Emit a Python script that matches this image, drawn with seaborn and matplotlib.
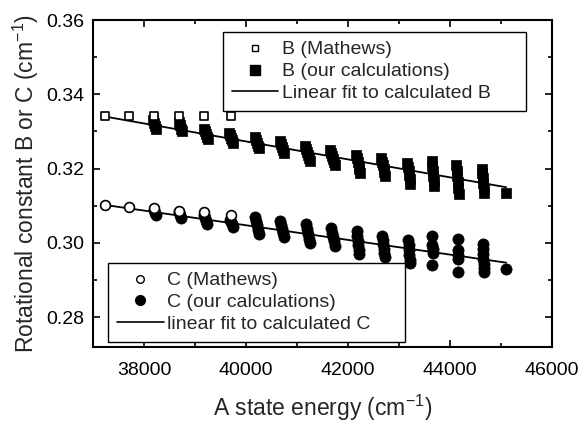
import numpy as np
import pandas as pd
import matplotlib
matplotlib.use("Agg")
import matplotlib.pyplot as plt
from matplotlib.ticker import MultipleLocator
from matplotlib.lines import Line2D
import seaborn as sns

# Mathews values
mathews_x = [37230, 37710, 38200, 38690, 39180, 39710]
mathews_b = [0.3341, 0.3341, 0.3341, 0.3341, 0.3341, 0.3341]
mathews_c = [0.3103, 0.3098, 0.3093, 0.3085, 0.3084, 0.3076]

# our calculations, B
calc_b_x = [38180, 38200, 38220, 38240,
            38680, 38700, 38720, 38740,
            39170, 39190, 39210, 39230, 39250,
            39670, 39690, 39710, 39730, 39750,
            40170, 40190, 40210, 40230, 40250,
            40670, 40690, 40710, 40730, 40750,
            41160, 41180, 41200, 41220, 41240, 41250,
            41650, 41670, 41690, 41710, 41730, 41740,
            42160, 42180, 42200, 42210, 42220, 42230,
            42650, 42670, 42690, 42700, 42710, 42720,
            43150, 43170, 43190, 43200, 43210, 43220,
            43640, 43650, 43660, 43670, 43680, 43690,
            44120, 44130, 44140, 44150, 44160, 44170,
            44620, 44630, 44640, 44650, 44660, 44670,
            45100]
calc_b = [0.3330, 0.3322, 0.3315, 0.3308,
          0.3326, 0.3318, 0.3308, 0.3300,
          0.3307, 0.3300, 0.3292, 0.3284, 0.3280,
          0.3297, 0.3290, 0.3283, 0.3276, 0.3270,
          0.3286, 0.3278, 0.3270, 0.3262, 0.3255,
          0.3275, 0.3267, 0.3259, 0.3251, 0.3243,
          0.3262, 0.3253, 0.3245, 0.3237, 0.3229, 0.3221,
          0.3251, 0.3243, 0.3235, 0.3227, 0.3219, 0.3211,
          0.3238, 0.3228, 0.3218, 0.3208, 0.3198, 0.3189,
          0.3229, 0.3219, 0.3209, 0.3199, 0.3190, 0.3181,
          0.3216, 0.3205, 0.3194, 0.3183, 0.3172, 0.3160,
          0.3221, 0.3208, 0.3195, 0.3181, 0.3168, 0.3154,
          0.3211, 0.3195, 0.3180, 0.3163, 0.3147, 0.3133,
          0.3200, 0.3187, 0.3174, 0.3161, 0.3148, 0.3135,
          0.3134]

# our calculations, C
calc_c_x = [38190, 38210, 38230,
            38690, 38710, 38730,
            39180, 39200, 39220, 39240,
            39680, 39700, 39720, 39740,
            40170, 40190, 40210, 40230, 40250,
            40670, 40690, 40710, 40730, 40750,
            41170, 41190, 41210, 41230, 41250,
            41670, 41690, 41710, 41730, 41750,
            42170, 42180, 42190, 42200, 42210, 42220,
            42670, 42680, 42690, 42700, 42710, 42720,
            43180, 43190, 43200, 43200, 43210, 43210,
            43650, 43650, 43660, 43660, 43650,
            44150, 44150, 44160, 44160, 44150,
            44640, 44640, 44650, 44650, 44660, 44660, 44660,
            45100]
calc_c = [0.3089, 0.3082, 0.3076,
          0.3084, 0.3076, 0.3068,
          0.3074, 0.3066, 0.3058, 0.3050,
          0.3063, 0.3056, 0.3050, 0.3044,
          0.3071, 0.3060, 0.3048, 0.3036, 0.3025,
          0.3060, 0.3049, 0.3038, 0.3027, 0.3017,
          0.3050, 0.3037, 0.3024, 0.3011, 0.2999,
          0.3039, 0.3028, 0.3016, 0.3004, 0.2993,
          0.3031, 0.3018, 0.3006, 0.2994, 0.2981, 0.2969,
          0.3020, 0.3008, 0.2996, 0.2985, 0.2973, 0.2961,
          0.3009, 0.2995, 0.2981, 0.2968, 0.2955, 0.2945,
          0.3020, 0.2995, 0.2985, 0.2972, 0.2942,
          0.3010, 0.2980, 0.2968, 0.2956, 0.2922,
          0.2996, 0.2983, 0.2970, 0.2957, 0.2944, 0.2932, 0.2923,
          0.2930]

# linear fit lines (end points)
fit_x = [37200, 45100]
fit_b = [0.3341, 0.3150]
fit_c = [0.3103, 0.2947]

sns.set_style("ticks")
plt.rcParams['font.family'] = ['Liberation Sans', 'DejaVu Sans']
plt.rcParams['mathtext.fontset'] = 'custom'
plt.rcParams['mathtext.rm'] = 'Liberation Sans'

fig = plt.figure(figsize=(5.79, 4.26), dpi=100)
ax = fig.add_axes([0.1606, 0.1854, 0.7928, 0.7676])

fits = pd.DataFrame({'x': fit_x * 2, 'y': fit_b + fit_c,
                     'kind': ['B'] * 2 + ['C'] * 2})
sns.lineplot(data=fits, x='x', y='y', units='kind', estimator=None,
             color='black', lw=1.3, ax=ax)

sns.scatterplot(x=calc_b_x, y=calc_b, marker='s', color='black',
                edgecolor='black', s=55, linewidth=0.5, ax=ax, zorder=3)
sns.scatterplot(x=calc_c_x, y=calc_c, marker='o', color='black',
                edgecolor='black', s=65, linewidth=0.5, ax=ax, zorder=3)
sns.scatterplot(x=mathews_x, y=mathews_b, marker='s', color='white',
                edgecolor='black', s=38, linewidth=1.2, ax=ax, zorder=4)
sns.scatterplot(x=mathews_x, y=mathews_c, marker='o', color='white',
                edgecolor='black', s=50, linewidth=1.2, ax=ax, zorder=4)

ax.set_xlim(37000, 46000)
ax.set_ylim(0.272, 0.36)
ax.xaxis.set_major_locator(MultipleLocator(2000))
ax.xaxis.set_minor_locator(MultipleLocator(1000))
ax.yaxis.set_major_locator(MultipleLocator(0.02))
ax.yaxis.set_minor_locator(MultipleLocator(0.01))
ax.yaxis.set_major_formatter(plt.FormatStrFormatter('%.2f'))
ax.set_xticks([38000, 40000, 42000, 44000, 46000])
ax.tick_params(which='both', direction='in', top=True, right=True,
               width=1.2, labelsize=14, colors='black')
ax.tick_params(axis='x', pad=11)
ax.tick_params(axis='y', pad=6)
ax.tick_params(which='major', length=5)
ax.tick_params(which='minor', length=3)
for sp in ax.spines.values():
    sp.set_linewidth(1.5)
    sp.set_color('black')

ax.set_xlabel('A state energy (cm$^{-1}$)', fontsize=16.5, labelpad=10)
ax.set_ylabel('Rotational constant B or C (cm$^{-1}$)', fontsize=16.5, labelpad=4)

leg_kw = dict(fontsize=14, frameon=True, fancybox=False, edgecolor='black',
              framealpha=1, handlelength=2.4, handletextpad=0.2,
              labelspacing=0.22, borderpad=0.45, borderaxespad=0,
              loc='upper left', mode='expand')

b_handles = [
    Line2D([], [], ls='none', marker='s', mfc='white', mec='black', ms=5, mew=1),
    Line2D([], [], ls='none', marker='s', mfc='black', mec='black', ms=6.5),
    Line2D([], [], color='black', lw=1.2),
]
leg_b = ax.legend(b_handles, ['B (Mathews)', 'B (our calculations)',
                              'Linear fit to calculated B'],
                  bbox_to_anchor=(0.283, 0.963, 0.66, 0.0), **leg_kw)
leg_b.get_frame().set_linewidth(1.0)
ax.add_artist(leg_b)

c_handles = [
    Line2D([], [], ls='none', marker='o', mfc='white', mec='black', ms=5.5, mew=1),
    Line2D([], [], ls='none', marker='o', mfc='black', mec='black', ms=7),
    Line2D([], [], color='black', lw=1.2),
]
leg_c = ax.legend(c_handles, ['C (Mathews)', 'C (our calculations)',
                              'linear fit to calculated C'],
                  bbox_to_anchor=(0.033, 0.257, 0.647, 0.0), **leg_kw)
leg_c.get_frame().set_linewidth(1.0)

fig.savefig('out.png', dpi=100)
